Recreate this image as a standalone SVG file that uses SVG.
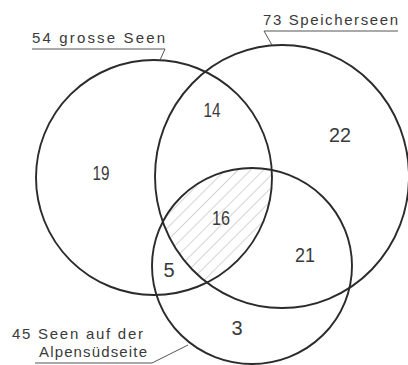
<svg xmlns="http://www.w3.org/2000/svg" width="408" height="365" viewBox="0 0 408 365">
<style>
.c{fill:none;stroke:#2b2b2b;stroke-width:1.9}
.l{fill:none;stroke:#555;stroke-width:1}
.n{font-family:"Liberation Sans",Arial,sans-serif;font-size:20px;fill:#3a3a3a;text-anchor:middle}
.t{font-family:"Liberation Sans",Arial,sans-serif;font-size:15px;fill:#3a3a3a}
</style>
<defs>
<clipPath id="clipA"><ellipse cx="154" cy="177.5" rx="118" ry="117.5"/></clipPath>
<clipPath id="clipB"><ellipse cx="282" cy="176.5" rx="127" ry="131.5"/></clipPath>
<clipPath id="clipC"><ellipse cx="252" cy="266" rx="100" ry="98"/></clipPath>
<pattern id="hatch" width="9" height="9" patternUnits="userSpaceOnUse" patternTransform="rotate(-45)">
<line x1="0" y1="0" x2="9" y2="0" stroke="#aaa" stroke-width="1"/>
</pattern>
</defs>
<rect width="408" height="365" fill="#fff"/>
<g id="hatched-intersection" clip-path="url(#clipA)"><g clip-path="url(#clipB)"><rect x="150" y="160" width="140" height="140" fill="url(#hatch)" clip-path="url(#clipC)"/></g></g>
<g id="set-grosse-seen">
<ellipse class="c" cx="154" cy="177.5" rx="118" ry="117.5"/>
<text class="t" x="32" y="43" textLength="133" lengthAdjust="spacing">54 grosse Seen</text>
</g>
<g id="set-speicherseen">
<ellipse class="c" cx="282" cy="176.5" rx="127" ry="131.5"/>
<text class="t" x="263" y="25" textLength="135" lengthAdjust="spacing">73 Speicherseen</text>
</g>
<g id="set-alpensuedseite">
<ellipse class="c" cx="252" cy="266" rx="100" ry="98"/>
<text class="t" x="12" y="339" textLength="131" lengthAdjust="spacing">45 Seen auf der</text>
<text class="t" x="39" y="357" textLength="108" lengthAdjust="spacing">Alpensüdseite</text>
</g>
<g id="connectors">
<polyline class="l" points="32,49 165,49 160,60"/>
<polyline class="l" points="264,31 398,31"/>
<line class="l" x1="264" y1="31" x2="272" y2="45"/>
<polyline class="l" points="35,363 152,363 188,345" stroke="#888"/>
</g>
<g id="counts">
<text class="n" x="212" y="117" textLength="17" lengthAdjust="spacingAndGlyphs">14</text>
<text class="n" x="340" y="142" textLength="22" lengthAdjust="spacingAndGlyphs">22</text>
<text class="n" x="101" y="180" textLength="17" lengthAdjust="spacingAndGlyphs">19</text>
<text class="n" x="221" y="225" textLength="18" lengthAdjust="spacingAndGlyphs">16</text>
<text class="n" x="305" y="262" textLength="20" lengthAdjust="spacingAndGlyphs">21</text>
<text class="n" x="169" y="277">5</text>
<text class="n" x="237" y="335">3</text>
</g>
</svg>
